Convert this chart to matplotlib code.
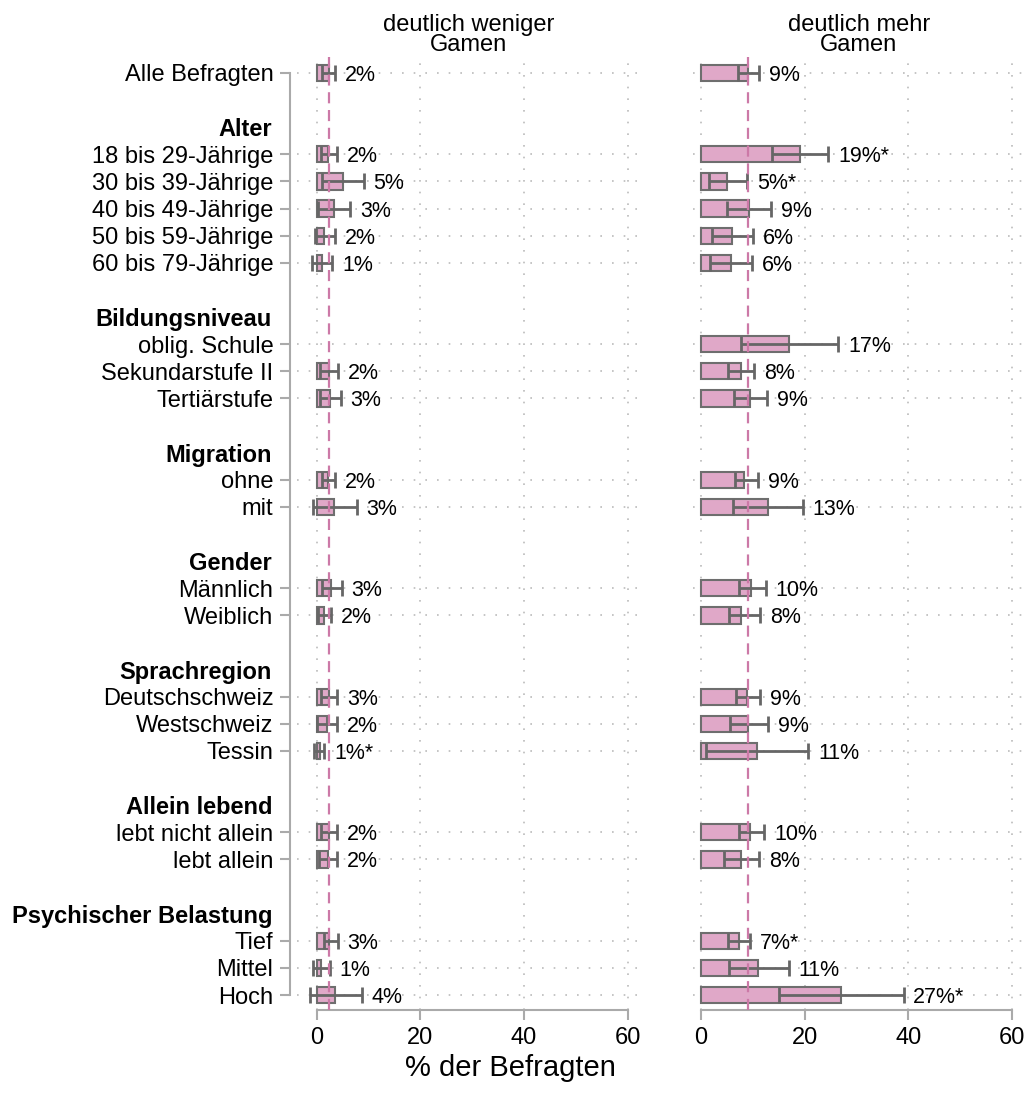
import numpy as np
import matplotlib
matplotlib.use("Agg")
import matplotlib.pyplot as plt
import matplotlib.transforms as mtransforms

plt.rcParams['font.family'] = ['Liberation Sans', 'DejaVu Sans']

# rows: (label, is_header)
rows = [
    ("Alle Befragten", False), ("", None),
    ("Alter", True), ("18 bis 29-Jährige", False), ("30 bis 39-Jährige", False),
    ("40 bis 49-Jährige", False), ("50 bis 59-Jährige", False), ("60 bis 79-Jährige", False), ("", None),
    ("Bildungsniveau", True), ("oblig. Schule", False), ("Sekundarstufe II", False), ("Tertiärstufe", False), ("", None),
    ("Migration", True), ("ohne", False), ("mit", False), ("", None),
    ("Gender", True), ("Männlich", False), ("Weiblich", False), ("", None),
    ("Sprachregion", True), ("Deutschschweiz", False), ("Westschweiz", False), ("Tessin", False), ("", None),
    ("Allein lebend", True), ("lebt nicht allein", False), ("lebt allein", False), ("", None),
    ("Psychischer Belastung", True), ("Tief", False), ("Mittel", False), ("Hoch", False),
]
data_labels = [r[0] for r in rows if r[1] is False]

# deutlich weniger Gamen
less_val = [2.3, 2.2, 5.0, 3.3, 1.5, 1.0, np.nan, 2.3, 2.5, 2.1, 3.3, 2.7, 1.5, 2.4, 1.9, 0.6, 2.3, 2.1, 2.4, 0.9, 3.6]
less_lo = [1.0, 0.9, 1.0, 0.3, -0.4, -0.9, np.nan, 0.6, 0.7, 1.0, -0.8, 1.0, 0.2, 0.8, 0.0, -0.5, 0.8, 0.4, 1.5, -0.7, -1.35]
less_hi = [3.5, 3.9, 9.1, 6.5, 3.5, 3.0, np.nan, 4.2, 4.6, 3.5, 7.7, 4.8, 2.7, 4.0, 4.0, 1.5, 3.9, 4.0, 4.1, 2.5, 8.7]
less_txt = ["2%", "2%", "5%", "3%", "2%", "1%", "", "2%", "3%", "2%", "3%", "3%", "2%", "3%", "2%", "1%*", "2%", "2%", "3%", "1%", "4%"]

# deutlich mehr Gamen
more_val = [9.1, 19.1, 5.1, 9.3, 6.0, 5.7, 17.0, 7.7, 9.5, 8.3, 12.9, 9.7, 7.7, 8.9, 9.1, 10.8, 9.5, 7.7, 7.3, 11.1, 27.0]
more_lo = [7.1, 13.8, 1.5, 5.1, 2.2, 1.7, 7.7, 5.3, 6.4, 6.6, 6.2, 7.3, 5.4, 6.8, 5.6, 1.0, 7.3, 4.4, 5.3, 5.5, 15.1]
more_hi = [11.2, 24.6, 8.9, 13.5, 10.1, 9.8, 26.5, 10.3, 12.7, 11.0, 19.7, 12.5, 11.4, 11.4, 12.9, 20.7, 12.2, 11.2, 9.5, 16.9, 39.1]
more_txt = ["9%", "19%*", "5%*", "9%", "6%", "6%", "17%", "8%", "9%", "9%", "13%", "10%", "8%", "9%", "9%", "11%", "10%", "8%", "7%*", "11%", "27%*"]

panels = [("deutlich weniger\nGamen", less_val, less_lo, less_hi, less_txt),
          ("deutlich mehr\nGamen", more_val, more_lo, more_hi, more_txt)]

bar_col = '#e0a8c8'
ref_col = '#cc79a7'
grey = '#aaaaaa'
dark = '#666666'

W, H = 1028, 1110
fig = plt.figure(figsize=(W / 100, H / 100), dpi=100)
ax1 = fig.add_axes([297 / W, 100 / H, 343.5 / W, 953.3 / H])
ax2 = fig.add_axes([692.7 / W, 100 / H, 332.1 / W, 953.3 / H])

ypos = [i for i, r in enumerate(rows) if r[1] is False]
hpos = [i for i, r in enumerate(rows) if r[1] is True]

for k, (ax, (title, val, lo, hi, txt)) in enumerate(zip([ax1, ax2], panels)):
    ax.set_ylim(34.55, -0.6)
    ax.set_xlim(-3.8 if k == 0 else -1.6, 62.5)
    for y in ypos:
        ax.axhline(y, color='#bbbbbb', lw=1.2, ls=(0, (1, 6)), zorder=0)
    for x in [0, 20, 40, 60]:
        ax.axvline(x, color='#bbbbbb', lw=1.2, ls=(0, (1, 6)), zorder=0)
    ax.axvline(val[0], color=ref_col, lw=1.6, ls=(0, (5, 3)), zorder=4)
    for y, v, l, h, t in zip(ypos, val, lo, hi, txt):
        if np.isnan(v):
            continue
        ax.barh(y, v, height=0.6, color=bar_col, edgecolor='#6e6e6e', lw=1.5, zorder=2)
        ax.errorbar(v, y, xerr=[[v - l], [h - v]], fmt='none', ecolor=dark,
                    elinewidth=2, capsize=5.5, capthick=2, zorder=3)
        ax.annotate(t, (h, y), xytext=(7, 0), textcoords='offset points',
                    va='center_baseline', ha='left', fontsize=15.5)
    ax.set_title(title, fontsize=17, pad=4, linespacing=0.9)
    for s in ['top', 'right']:
        ax.spines[s].set_visible(False)
    ax.spines['bottom'].set_bounds(0, 60)
    ax.spines['bottom'].set_color(grey)
    ax.spines['bottom'].set_linewidth(1.5)
    ax.set_xticks([0, 20, 40, 60])
    ax.tick_params(axis='x', length=7, width=1.5, color=grey, labelsize=17, pad=5)

ax1.spines['left'].set_position(('outward', 5))
ax1.spines['left'].set_bounds(0, 34)
ax1.spines['left'].set_color(grey)
ax1.spines['left'].set_linewidth(1.5)
ax1.set_yticks(ypos)
ax1.set_yticklabels(data_labels)
ax1.tick_params(axis='y', length=7, width=1.5, color=grey, labelsize=17, pad=5)

ax2.spines['left'].set_visible(False)
ax2.set_yticks([])

trans = mtransforms.blended_transform_factory(fig.transFigure, ax1.transData)
for i in hpos:
    fig.text(272 / W, i + 0.1, rows[i][0], transform=trans, ha='right', va='center',
             fontsize=17, fontweight='bold')

fig.text(0.497, 1 - 1068 / H, "% der Befragten", ha='center', va='center', fontsize=21)

fig.savefig("out.png", dpi=100)
